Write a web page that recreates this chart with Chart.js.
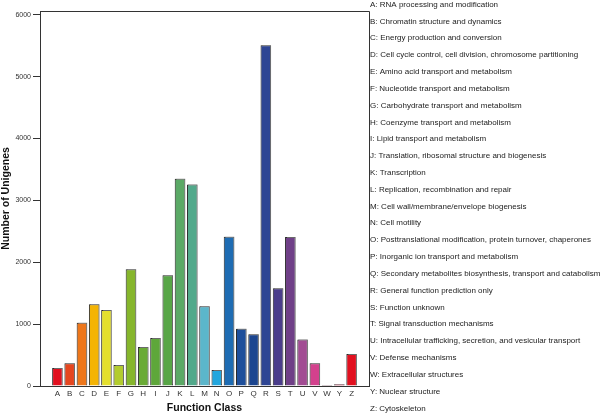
<!DOCTYPE html>
<html>
<head>
<meta charset="utf-8">
<script src="https://cdn.jsdelivr.net/npm/chart.js@4/dist/chart.umd.min.js"></script>
<style>
  html, body { margin: 0; padding: 0; background: #fff; }
  #wrap { width: 600px; height: 413px; }
</style>
</head>
<body>
<div id="wrap"><canvas id="grafico" width="600" height="413"></canvas></div>
<script>
const clases = ["A","B","C","D","E","F","G","H","I","J","K","L","M","N","O","P","Q","R","S","T","U","V","W","Y","Z"];
const unigenes = [290, 367, 1024, 1322, 1230, 340, 1888, 631, 777, 1791, 3350, 3258, 1289, 259, 2411, 927, 836, 5507, 1581, 2408, 750, 367, 15, 30, 518];
const colores = ["#e2101f","#e6461f","#ee771b","#f4b404","#e4df2d","#b3cc2e","#86b62c","#6aab36","#5ea73a","#58a647","#5ba966","#52a98b","#5bb6cb","#22a6de","#1e6cb3","#1e4f9b","#1c4690","#2e4594","#4a3d8b","#6f3f87","#a24c93","#d3418d","#7a2040","#b0193c","#e2101f"];
const descripciones = [
  "A: RNA processing and modification",
  "B: Chromatin structure and dynamics",
  "C: Energy production and conversion",
  "D: Cell cycle control, cell division, chromosome partitioning",
  "E: Amino acid transport and metabolism",
  "F: Nucleotide transport and metabolism",
  "G: Carbohydrate transport and metabolism",
  "H: Coenzyme transport and metabolism",
  "I: Lipid transport and metabolism",
  "J: Translation, ribosomal structure and biogenesis",
  "K: Transcription",
  "L: Replication, recombination and repair",
  "M: Cell wall/membrane/envelope biogenesis",
  "N: Cell motility",
  "O: Posttranslational modification, protein turnover, chaperones",
  "P: Inorganic ion transport and metabolism",
  "Q: Secondary metabolites biosynthesis, transport and catabolism",
  "R: General function prediction only",
  "S: Function unknown",
  "T: Signal transduction mechanisms",
  "U: Intracellular trafficking, secretion, and vesicular transport",
  "V: Defense mechanisms",
  "W: Extracellular structures",
  "Y: Nuclear structure",
  "Z: Cytoskeleton"
];
const ticksY = [0, 1000, 2000, 3000, 4000, 5000, 6000];

// sombra gris clara de las barras
const sombraBarras = {
  id: "sombraBarras",
  beforeDatasetsDraw(chart) {
    const ctx = chart.ctx;
    ctx.save();
    ctx.shadowColor = "rgba(150,150,150,0.6)";
    ctx.shadowOffsetX = 1;
    ctx.shadowOffsetY = -1;
    ctx.shadowBlur = 0;
  },
  afterDatasetsDraw(chart) {
    chart.ctx.restore();
  }
};

// marco superior/derecho y lista de clases a la derecha
const marcoYLista = {
  id: "marcoYLista",
  afterDraw(chart) {
    const ctx = chart.ctx;
    const a = chart.chartArea;
    ctx.save();
    ctx.strokeStyle = "#333";
    ctx.lineWidth = 1;
    ctx.beginPath();
    ctx.moveTo(a.left, a.top + 0.5);
    ctx.lineTo(a.right + 0.5, a.top + 0.5);
    ctx.lineTo(a.right + 0.5, a.bottom);
    ctx.stroke();

    ctx.fillStyle = "#222";
    ctx.font = "8px 'Liberation Sans', Arial, sans-serif";
    ctx.textBaseline = "middle";
    const paso = 16.83;
    descripciones.forEach((t, i) => {
      ctx.fillText(t, a.right + 1, 4.5 + i * paso);
    });
    ctx.restore();
  }
};

new Chart(document.getElementById("grafico"), {
  type: "bar",
  data: {
    datasets: [{
      data: unigenes.map((v, i) => ({ x: i, y: v })),
      backgroundColor: colores,
      borderColor: "#2a2a2a",
      borderWidth: 1,
      borderSkipped: "bottom",
      barPercentage: 0.86,
      categoryPercentage: 1
    }]
  },
  options: {
    responsive: false,
    animation: false,
    layout: { padding: { top: 11, right: 231, left: 0, bottom: 0 } },
    plugins: { legend: { display: false }, tooltip: { enabled: false } },
    scales: {
      x: {
        type: "linear",
        offset: false,
        min: -1.42,
        max: 25.42,
        afterBuildTicks: axis => { axis.ticks = clases.map((c, i) => ({ value: i })); },
        afterFit: scale => { scale.height = 27; },
        ticks: {
          autoSkip: false,
          maxRotation: 0,
          padding: 3,
          color: "#333",
          font: { family: "'Liberation Sans', Arial, sans-serif", size: 8 },
          callback: v => clases[v] || ""
        },
        grid: { display: false, drawTicks: false, tickLength: 0 },
        border: { display: true, color: "#333", width: 1 },
        title: {
          display: true,
          text: "Function Class",
          color: "#111",
          padding: { top: 0, bottom: 0 },
          font: { family: "'Liberation Sans', Arial, sans-serif", size: 10.5, weight: "bold", lineHeight: 1 }
        }
      },
      y: {
        min: 0,
        max: 6060,
        afterBuildTicks: axis => { axis.ticks = ticksY.map(v => ({ value: v })); },
        afterFit: scale => { scale.width = 40; },
        ticks: {
          padding: 2,
          color: "#333",
          font: { family: "'Liberation Sans', Arial, sans-serif", size: 7 },
          callback: v => String(v)
        },
        grid: { drawOnChartArea: false, drawTicks: true, tickLength: 7, color: "#333" },
        border: { display: true, color: "#333", width: 1 },
        title: {
          display: true,
          text: "Number of Unigenes",
          color: "#111",
          padding: { top: 0, bottom: 0 },
          font: { family: "'Liberation Sans', Arial, sans-serif", size: 10.5, weight: "bold" }
        }
      }
    }
  },
  plugins: [sombraBarras, marcoYLista]
});
</script>
</body>
</html>
